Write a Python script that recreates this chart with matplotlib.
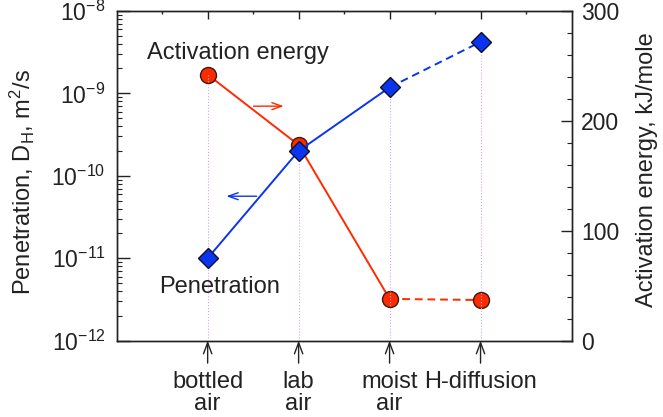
import numpy as np
import matplotlib.pyplot as plt
from matplotlib.ticker import FuncFormatter, MultipleLocator, LogLocator, NullFormatter

plt.rcParams['font.family'] = 'Liberation Sans'
plt.rcParams['mathtext.fontset'] = 'custom'
plt.rcParams['mathtext.rm'] = 'Liberation Sans'
plt.rcParams['mathtext.it'] = 'Liberation Sans'
plt.rcParams['text.color'] = '#222222'

# data
conditions = ["bottled\nair", "lab\nair", "moist\nair", "H-diffusion"]
penetration = [1.0e-11, 2.0e-10, 1.18e-9, 4.2e-9]   # m^2/s, left log axis
activation = [242, 178, 38, 37]                       # kJ/mole, right axis

red = '#ff2a00'
blue = '#0a34f0'
ink = '#222222'

fig = plt.figure(figsize=(6.63, 4.17), dpi=100)
ax = fig.add_axes([0.176, 0.183, 0.686, 0.791])
ax2 = ax.twinx()
ax.set_zorder(ax2.get_zorder() + 1)
ax.patch.set_visible(False)

x = np.arange(1, len(conditions) + 1)

ax.set_yscale('log')
ax.set_ylim(1e-12, 1e-8)
ax.set_xlim(0, 5)
ax2.set_ylim(0, 300)

# dotted guide from the axis up to the higher marker
for xi, p, e in zip(x, penetration, activation):
    top = max((np.log10(p) + 12) / 4, e / 300)
    ax.axvline(xi, ymin=0, ymax=top, color='#d4a8dc', lw=0.8, ls=':', zorder=1)

# activation energy (right axis)
ax2.plot(x[:3], activation[:3], color=red, lw=1.4, zorder=2)
ax2.plot(x[2:], activation[2:], color=red, lw=1.4, ls=(0, (4, 2.5)), zorder=2)
ax2.plot(x, activation, 'o', ms=11.5, mfc=red, mec='#3a1a10', mew=1.0, zorder=3)

# penetration (left axis)
ax.plot(x[:3], penetration[:3], color=blue, lw=1.4, zorder=2)
ax.plot(x[2:], penetration[2:], color=blue, lw=1.4, ls=(0, (4, 2.5)), zorder=2)
ax.plot(x, penetration, 'D', ms=9.7, mfc=blue, mec='#111122', mew=1.0, zorder=3)

# axes styling
for a in (ax, ax2):
    for s in a.spines.values():
        s.set_linewidth(1.0)
        s.set_color(ink)

ax.yaxis.set_major_locator(LogLocator(base=10, numticks=10))
ax.yaxis.set_minor_locator(LogLocator(base=10, subs=np.arange(2, 10), numticks=10))
ax.yaxis.set_major_formatter(FuncFormatter(lambda v, p: r'$\mathregular{10^{%d}}$' % round(np.log10(v))))
ax.yaxis.set_minor_formatter(NullFormatter())
ax.tick_params(axis='y', which='major', direction='in', length=9, width=1, colors=ink,
               labelsize=16.5, pad=8)
ax.tick_params(axis='y', which='minor', direction='in', length=3.5, width=0.8, colors=ink)

ax2.yaxis.set_major_locator(MultipleLocator(100))
ax2.yaxis.set_minor_locator(MultipleLocator(20))
ax2.tick_params(axis='y', which='major', direction='in', length=8, width=1, colors=ink,
                labelsize=16.5, pad=7)
ax2.tick_params(axis='y', which='minor', direction='in', length=3.5, width=0.8, colors=ink)

ax.set_xticks(x, conditions)
ax.set_xticks(np.arange(0.5, 5, 1), minor=True)
ax.tick_params(axis='x', which='both', bottom=False, top=True, direction='in',
               labelbottom=True, labeltop=False, colors=ink)
ax.tick_params(axis='x', which='major', length=6, width=1, labelsize=17, pad=22)
ax.tick_params(axis='x', which='minor', length=2.5, width=1)
for lbl in ax.get_xticklabels():
    lbl.set_linespacing(1.0)
    lbl.set_multialignment('center')

# arrows under the axis
xa = ax.get_xaxis_transform()
for xi in x:
    ax.annotate('', xy=(xi, 0), xycoords=xa, xytext=(xi, -0.068), textcoords=xa,
                arrowprops=dict(arrowstyle='->,head_length=0.8,head_width=0.3', lw=1.0,
                                color=ink, shrinkA=0, shrinkB=0),
                annotation_clip=False)

# in-plot labels and direction arrows
ax.text(0.334, 0.872, 'Activation energy', transform=xa, fontsize=17, ha='left', va='center')
ax.text(0.466, 0.163, 'Penetration', transform=xa, fontsize=17, ha='left', va='center')
ax.annotate('', xy=(1.836, 0.711), xycoords=xa, xytext=(1.504, 0.711), textcoords=xa,
            arrowprops=dict(arrowstyle='->,head_length=0.7,head_width=0.25', lw=1.0,
                            color=red, shrinkA=0, shrinkB=0))
ax.annotate('', xy=(1.206, 0.438), xycoords=xa, xytext=(1.538, 0.438), textcoords=xa,
            arrowprops=dict(arrowstyle='->,head_length=0.7,head_width=0.25', lw=1.0,
                            color=blue, shrinkA=0, shrinkB=0))

# axis titles
fig.text(22 / 663, 1 - 182 / 417, r'Penetration, D$_\mathregular{H}$, m$^\mathregular{2}$/s',
         rotation=90, ha='center', va='center', fontsize=17)
fig.text(647 / 663, 1 - 170 / 417, 'Activation energy, kJ/mole',
         rotation=90, ha='center', va='center', fontsize=17)

fig.savefig('out.png', dpi=100)
